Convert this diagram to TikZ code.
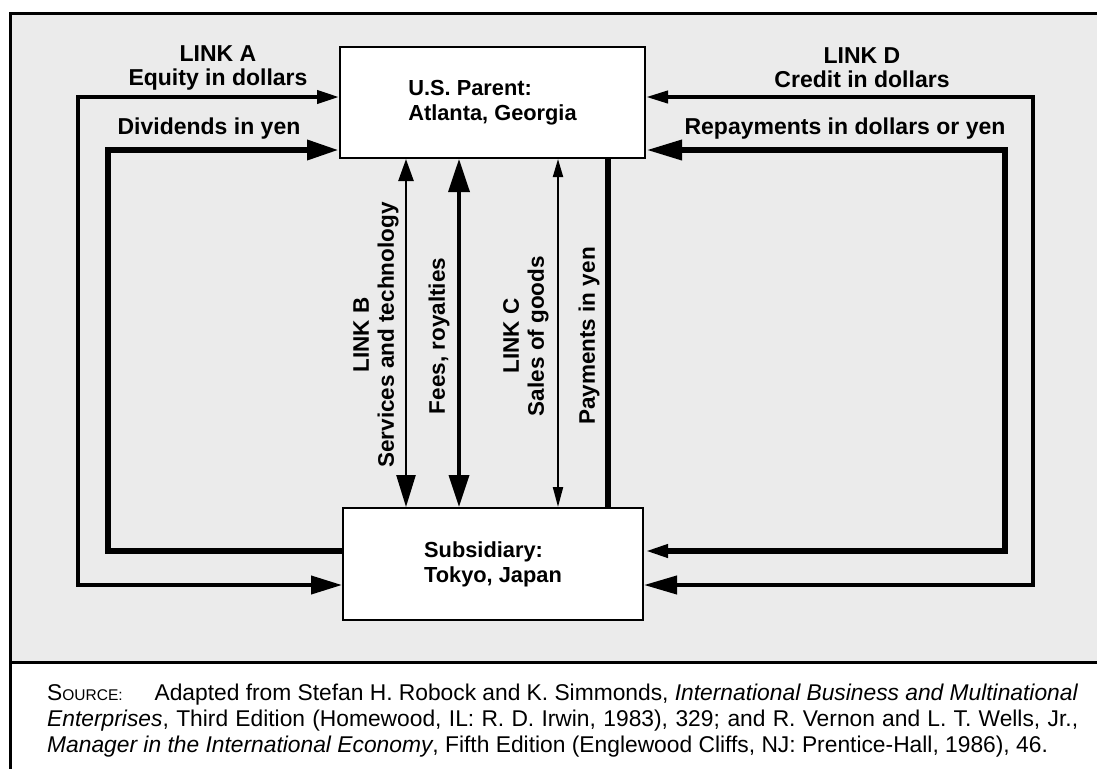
\documentclass[tikz,border=0pt]{standalone}
\usepackage{fontspec}
\setmainfont{Liberation Sans}
\usetikzlibrary{arrows.meta}
\begin{document}
\begin{tikzpicture}[x=1pt,y=-1pt,
  lbl/.style={font=\fontsize{23}{24}\selectfont\bfseries, inner sep=0pt, align=center},
  vlbl/.style={font=\fontsize{22.5}{25}\selectfont\bfseries, inner sep=0pt, align=center, rotate=90},
  boxnode/.style={draw, line width=2pt, fill=white, inner sep=0pt, align=left,
    font=\fontsize{21.8}{25}\selectfont\bfseries},
  captext/.style={font=\fontsize{22.8}{26}\selectfont, inner sep=0pt, anchor=base west},
  midline/.style={line width=4pt},
  heavyline/.style={line width=6.5pt}]
\useasboundingbox (0,0) rectangle (1097,769);
\fill[white] (0,0) rectangle (1097,769);
\fill[black!8] (10,13) rectangle (1097,662);
\draw[line width=3pt] (1097,13) -- (10,13) -- (10,769);
\draw[line width=3pt] (10,662) -- (1097,662);

% boxes
\node[boxnode, minimum width=305pt, minimum height=111pt] (parent) at (492.5,102.5) {U.S. Parent:\\Atlanta, Georgia};
\node[boxnode, minimum width=300pt, minimum height=112pt] (sub) at (493,564) {Subsidiary:\\Tokyo, Japan};

% corner coordinates
\coordinate (aT) at (78,97);  \coordinate (aB) at (78,585);
\coordinate (dT) at (108,150); \coordinate (dB) at (108,551);
\coordinate (cT) at (1033,97); \coordinate (cB) at (1033,585);
\coordinate (rT) at (1005,150); \coordinate (rB) at (1005,551);
\coordinate (xS) at (406,0); \coordinate (xF) at (459,0);
\coordinate (xC) at (558,0); \coordinate (xP) at (608,0);

% link A
\draw[midline, {Triangle[length=22pt,width=13pt]}-{Triangle[length=31pt,width=18pt]}]
  (parent.west |- aT) -- (aT) -- (aB) -- (sub.west |- aB);
\draw[heavyline, -{Triangle[length=32pt,width=19pt]}]
  (sub.west |- dB) -- (dB) -- (dT) -- (parent.west |- dT);
% link D
\draw[midline, {Triangle[length=22pt,width=12pt]}-{Triangle[length=33pt,width=18pt]}]
  (parent.east |- cT) -- (cT) -- (cB) -- (sub.east |- cB);
\draw[heavyline, {Triangle[length=36pt,width=19pt]}-{Triangle[length=24pt,width=12pt]}]
  (parent.east |- rT) -- (rT) -- (rB) -- (sub.east |- rB);
% links B and C
\draw[line width=2.5pt, {Triangle[length=22pt,width=15pt]}-{Triangle[length=32pt,width=19pt]}]
  (parent.south -| xS) -- (sub.north -| xS);
\draw[line width=3.5pt, {Triangle[length=33pt,width=21pt]}-{Triangle[length=32pt,width=20pt]}]
  (parent.south -| xF) -- (sub.north -| xF);
\draw[line width=2pt, {Triangle[length=18pt,width=10pt]}-{Triangle[length=20pt,width=10pt]}]
  (parent.south -| xC) -- (sub.north -| xC);
\draw[line width=6pt] (sub.north -| xP) -- (parent.south -| xP);

% labels
\node[lbl] (la) at (218,68) {LINK A\\Equity in dollars};
\node[lbl] (ldiv) at (209,129) {Dividends in yen};
\node[lbl] (ld) at (862,68) {LINK D\\Credit in dollars};
\node[lbl] (lrep) at (845,129) {Repayments in dollars or yen};
\node[vlbl] (lb) at (376,335) {LINK B\\Services and technology};
\node[vlbl] (lfee) at (439,336) {Fees, royalties};
\node[vlbl] (lc) at (526,336) {LINK C\\Sales of goods};
\node[vlbl] (lpay) at (589,336) {Payments in yen};

% caption
\node[captext] (c1) at (47,700) {\hbox to 1031pt{S{\fontsize{15.5}{15.5}\selectfont OURCE:}\hspace{1.4em}Adapted from Stefan H. Robock and K. Simmonds, \textit{International Business and Multinational}}};
\node[captext] (c2) at (47,726) {\hbox to 1031pt{\textit{Enterprises}, Third Edition (Homewood, IL: R. D. Irwin, 1983), 329; and R. Vernon and L. T. Wells, Jr.,}};
\node[captext] (c3) at (47,752) {\textit{Manager in the International Economy}, Fifth Edition (Englewood Cliffs, NJ: Prentice-Hall, 1986), 46.};
\end{tikzpicture}
\end{document}
